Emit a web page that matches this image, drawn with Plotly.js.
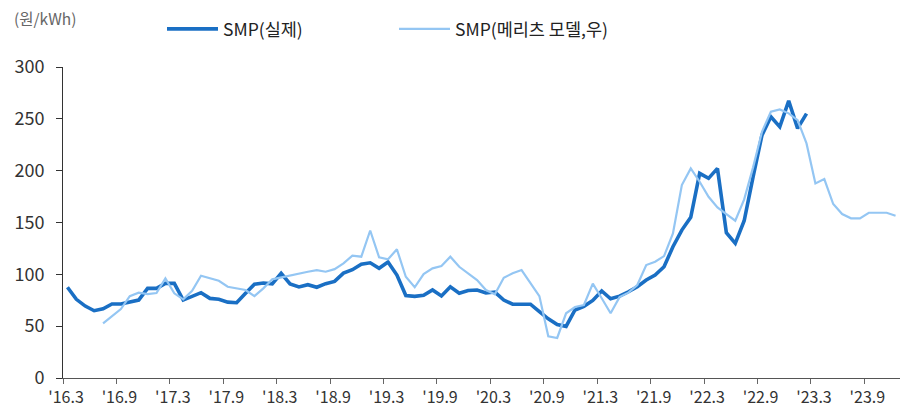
<!DOCTYPE html>
<html>
<head>
<meta charset="utf-8">
<script src="https://cdn.plot.ly/plotly-3.0.1.min.js"></script>
<style>html,body{margin:0;padding:0;background:#fff;}#chart{width:901px;height:411px;}</style>
</head>
<body>
<div id="chart"></div>
<script>
// Monthly categories, 2016.03 – 2023.12
const months = [
 "16.03","16.04","16.05","16.06","16.07","16.08","16.09","16.10","16.11","16.12",
 "17.01","17.02","17.03","17.04","17.05","17.06","17.07","17.08","17.09","17.10","17.11","17.12",
 "18.01","18.02","18.03","18.04","18.05","18.06","18.07","18.08","18.09","18.10","18.11","18.12",
 "19.01","19.02","19.03","19.04","19.05","19.06","19.07","19.08","19.09","19.10","19.11","19.12",
 "20.01","20.02","20.03","20.04","20.05","20.06","20.07","20.08","20.09","20.10","20.11","20.12",
 "21.01","21.02","21.03","21.04","21.05","21.06","21.07","21.08","21.09","21.10","21.11","21.12",
 "22.01","22.02","22.03","22.04","22.05","22.06","22.07","22.08","22.09","22.10","22.11","22.12",
 "23.01","23.02","23.03","23.04","23.05","23.06","23.07","23.08","23.09","23.10","23.11","23.12"
];

// SMP actual (원/kWh), 2016.03 – 2023.02
const smpActual = [
 87.5, 75.9, 69.4, 64.9, 66.8, 71.4, 71.4, 73.0, 75.2, 86.5,
 86.5, 91.3, 91.3, 75.2, 78.6, 82.3, 76.8, 75.9, 73.2, 72.6, 81.7, 90.5,
 91.6, 90.8, 101.0, 90.8, 87.8, 90.0, 87.5, 91.0, 93.2, 101.2, 104.5, 109.8,
 111.1, 105.8, 111.9, 99.3, 79.5, 78.7, 79.7, 84.9, 79.2, 88.0, 81.7, 84.4,
 84.9, 82.0, 82.9, 75.2, 71.2, 71.2, 71.2, 64.0, 57.1, 51.6, 49.8, 65.6,
 69.1, 74.8, 84.0, 76.4, 79.0, 83.2, 88.0, 94.5, 99.3, 107.3, 126.6, 142.7,
 155.0, 197.4, 192.6, 202.2, 140.1, 129.9, 151.7, 194.1, 234.3, 252.0, 242.3, 267.4,
 240.8, 255.0
];

// SMP model estimate (메리츠 모델), 2016.03 – 2023.12
const smpModel = [
 null, null, null, null, 52.7, 59.5, 66.5, 79.0, 82.3, 81.0,
 82.0, 96.1, 81.7, 75.9, 84.0, 98.7, 96.1, 93.8, 88.0, 86.5, 84.9, 79.0,
 86.5, 95.2, 97.1, 99.3, 101.0, 102.5, 104.1, 102.5, 105.0, 110.6, 118.0, 117.0,
 142.3, 116.4, 114.5, 124.1, 97.7, 87.5, 100.3, 105.8, 108.0, 117.0, 107.3, 101.0,
 94.5, 84.9, 80.7, 96.7, 101.0, 104.1, 91.3, 79.0, 40.2, 38.6, 62.4, 68.5,
 70.4, 91.0, 76.9, 62.4, 78.0, 82.3, 89.7, 109.0, 112.2, 117.6, 139.5, 186.1,
 202.2, 189.3, 174.8, 164.6, 158.1, 151.7, 172.3, 203.2, 237.5, 256.8, 259.1, 255.3,
 248.8, 226.3, 187.7, 191.9, 167.8, 158.1, 154.0, 154.0, 159.4, 159.4, 159.4, 156.5
];

// Tick labels (every 6 months)
const tickMonths = ["16.03","16.09","17.03","17.09","18.03","18.09","19.03","19.09",
                    "20.03","20.09","21.03","21.09","22.03","22.09","23.03","23.09"];
const tickLabels = ["'16.3","'16.9","'17.3","'17.9","'18.3","'18.9","'19.3","'19.9",
                    "'20.3","'20.9","'21.3","'21.9","'22.3","'22.9","'23.3","'23.9"];

const xIdx = months.map((m, i) => i);
const tickPos = tickMonths.map(m => months.indexOf(m) - 0.5);

const FONT = '"Noto Sans CJK KR", "Noto Sans", sans-serif';

const traces = [
  {
    x: xIdx.slice(0, smpActual.length), y: smpActual,
    type: 'scatter', mode: 'lines', name: 'SMP(실제)',
    line: {color: '#1a6fc4', width: 3.6},
    legend: 'legend'
  },
  {
    x: xIdx, y: smpModel,
    type: 'scatter', mode: 'lines', name: 'SMP(메리츠 모델,우)',
    line: {color: '#94c6f3', width: 2.2},
    connectgaps: false,
    legend: 'legend2'
  }
];

const legendY = 1 + (67 - 29) / 311;
const layout = {
  width: 901, height: 411,
  margin: {l: 63, r: 1, t: 67, b: 33},
  paper_bgcolor: '#fff', plot_bgcolor: '#fff',
  font: {family: FONT, color: '#333'},
  showlegend: true,
  xaxis: {
    range: [-0.5, months.length - 0.5],
    tickmode: 'array', tickvals: tickPos, ticktext: tickLabels,
    ticks: 'outside', ticklen: 5, tickcolor: '#666', tickwidth: 1,
    showline: true, linecolor: '#555', linewidth: 1,
    showgrid: false, zeroline: false,
    tickfont: {family: FONT, size: 16, color: '#333'},
    ticklabelshift: 3
  },
  yaxis: {
    range: [0, 300], tickmode: 'linear', tick0: 0, dtick: 50,
    ticks: 'outside', ticklen: 6, tickcolor: '#333', tickwidth: 1,
    showline: true, linecolor: '#333', linewidth: 1,
    showgrid: false, zeroline: false,
    tickfont: {family: FONT, size: 18, color: '#333'},
    ticklabelstandoff: 8
  },
  legend: {
    x: (162 - 63) / 837, y: legendY, xanchor: 'left', yanchor: 'middle',
    orientation: 'h', bgcolor: 'rgba(0,0,0,0)', borderwidth: 0, itemwidth: 51,
    font: {family: FONT, size: 17.5, color: '#222'}
  },
  legend2: {
    x: (394 - 63) / 837, y: legendY, xanchor: 'left', yanchor: 'middle',
    orientation: 'h', bgcolor: 'rgba(0,0,0,0)', borderwidth: 0, itemwidth: 51,
    font: {family: FONT, size: 17.5, color: '#222'}
  },
  annotations: [{
    xref: 'paper', yref: 'paper',
    x: (12 - 63) / 837, y: 1 + (67 - 18) / 311,
    xanchor: 'left', yanchor: 'middle', showarrow: false,
    text: '(원/kWh)', font: {family: FONT, size: 15.5, color: '#666'}
  }]
};

Plotly.newPlot('chart', traces, layout, {displayModeBar: false, staticPlot: true});
</script>
</body>
</html>
